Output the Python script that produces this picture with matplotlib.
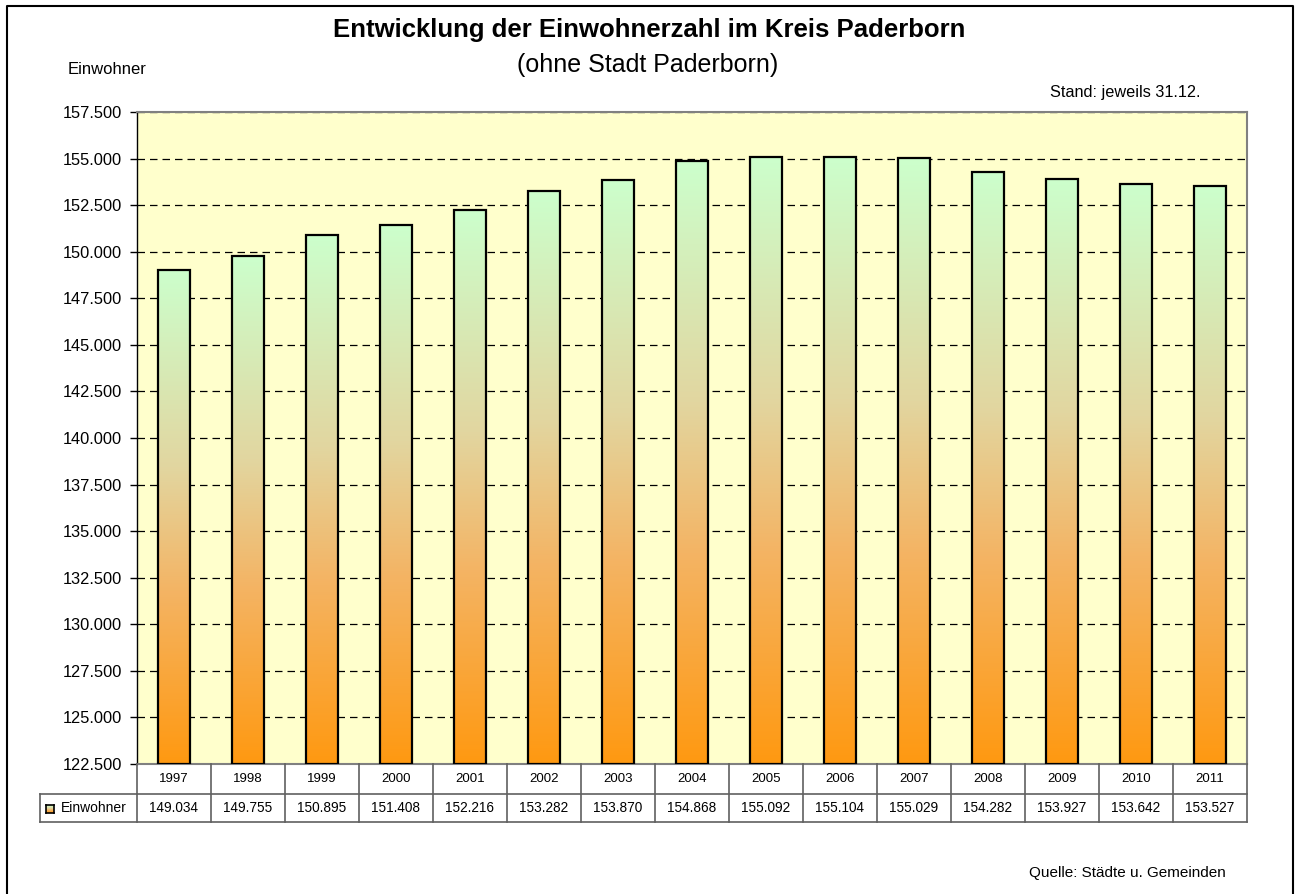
import numpy as np
import matplotlib
matplotlib.use("Agg")
import matplotlib.pyplot as plt
from matplotlib.lines import Line2D
from matplotlib.patches import Rectangle

years = ["1997", "1998", "1999", "2000", "2001", "2002", "2003", "2004",
         "2005", "2006", "2007", "2008", "2009", "2010", "2011"]
einwohner = [149034, 149755, 150895, 151408, 152216, 153282, 153870, 154868,
             155092, 155104, 155029, 154282, 153927, 153642, 153527]
y_ticks = [122500, 125000, 127500, 130000, 132500, 135000, 137500, 140000,
           142500, 145000, 147500, 150000, 152500, 155000, 157500]
series_name = "Einwohner"

plt.rcParams['font.family'] = ['Liberation Sans', 'DejaVu Sans']

W, H = 1300, 894
fig = plt.figure(figsize=(13, 8.94), dpi=100)

def fx(px):
    return px / W

def fy(py):
    return 1 - py / H

# outer border
fig.add_artist(Line2D([fx(7), fx(7), fx(1293), fx(1293)],
                      [fy(900), fy(6), fy(6), fy(900)],
                      transform=fig.transFigure, color='black', lw=1.5))

L, R, T, B = 137, 1247, 112, 764
ax = fig.add_axes([fx(L), fy(B), fx(R - L), (B - T) / H])
ax.set_facecolor('#FFFFCC')

ymin, ymax = y_ticks[0], y_ticks[-1]
x = np.arange(len(years))
bw = 0.43

# gradient colormap: top green, middle tan, bottom orange
stops = np.array([[255, 153, 17], [244, 180, 100], [226, 214, 160], [204, 255, 204]]) / 255.0
pos = np.array([0.0, 0.35, 0.6, 1.0])
t = np.linspace(0, 1, 256)
grad = np.stack([np.interp(t, pos, stops[:, c]) for c in range(3)], axis=1)
grad_img = grad[::-1][:, None, :]  # top row = green

for xi, v in zip(x, einwohner):
    ax.imshow(grad_img, extent=(xi - bw / 2, xi + bw / 2, ymin, v),
              aspect='auto', zorder=3, interpolation='bilinear')
    ax.add_patch(Rectangle((xi - bw / 2, ymin), bw, v - ymin, fill=False,
                           edgecolor='black', lw=1.6, zorder=4))

ax.set_xlim(-0.5, len(years) - 0.5)
ax.set_ylim(ymin, ymax)
ax.set_yticks(y_ticks)
ax.set_yticklabels([f"{v:,}".replace(",", ".") for v in y_ticks], fontsize=11.8)
ax.set_xticks([])
ax.yaxis.grid(True, linestyle=(0, (6, 4)), color='black', lw=0.9)
ax.set_axisbelow(True)
ax.tick_params(axis='y', length=5, width=1, color='black', pad=6)
for s in ['top', 'right', 'bottom']:
    ax.spines[s].set_color('#808080')
    ax.spines[s].set_linewidth(1.5)
ax.spines['left'].set_color('black')
ax.spines['left'].set_linewidth(1)

# data table
row1_top, row1_bot, row2_bot = 764, 794, 822
leg_left = 40
cw = (R - L) / len(years)
tcol = '#606060'
lines = []
lines.append(([L, R], [row1_bot, row1_bot]))
lines.append(([leg_left, R], [row2_bot, row2_bot]))
lines.append(([leg_left, L], [row1_bot, row1_bot]))
lines.append(([leg_left, leg_left], [row1_bot, row2_bot]))
for i in range(len(years) + 1):
    xx = L + i * cw
    lines.append(([xx, xx], [row1_top, row2_bot]))
for xs, ys in lines:
    fig.add_artist(Line2D([fx(v) for v in xs], [fy(v) for v in ys],
                          transform=fig.transFigure, color=tcol, lw=1.2))
for i, (yr, v) in enumerate(zip(years, einwohner)):
    cx = L + (i + 0.5) * cw
    fig.text(fx(cx), fy((row1_top + row1_bot) / 2), yr, ha='center', va='center', fontsize=9.5)
    fig.text(fx(cx), fy((row1_bot + row2_bot) / 2), f"{v:,}".replace(",", "."),
             ha='center', va='center', fontsize=9.8)

# legend key in table
kax = fig.add_axes([fx(46), fy(813), fx(8), 8 / H])
kax.imshow(grad_img, aspect='auto', extent=(0, 1, 0, 1), interpolation='bilinear')
kax.set_xticks([]); kax.set_yticks([])
for s in kax.spines.values():
    s.set_linewidth(1.2); s.set_color('black')
fig.text(fx(61), fy(808), series_name, ha='left', va='center', fontsize=10)

# titles and notes
fig.text(fx(649), fy(37), "Entwicklung der Einwohnerzahl im Kreis Paderborn",
         ha='center', va='baseline', fontsize=18.5, fontweight='bold')
fig.text(fx(648), fy(72), "(ohne Stadt Paderborn)", ha='center', va='baseline', fontsize=18)
fig.text(fx(68), fy(69), "Einwohner", ha='left', va='center', fontsize=12)
fig.text(fx(1200), fy(92), "Stand: jeweils 31.12.", ha='right', va='center', fontsize=11.7)
fig.text(fx(1226), fy(873), "Quelle: Städte u. Gemeinden", ha='right', va='center', fontsize=11)

fig.savefig("out.png", dpi=100)
